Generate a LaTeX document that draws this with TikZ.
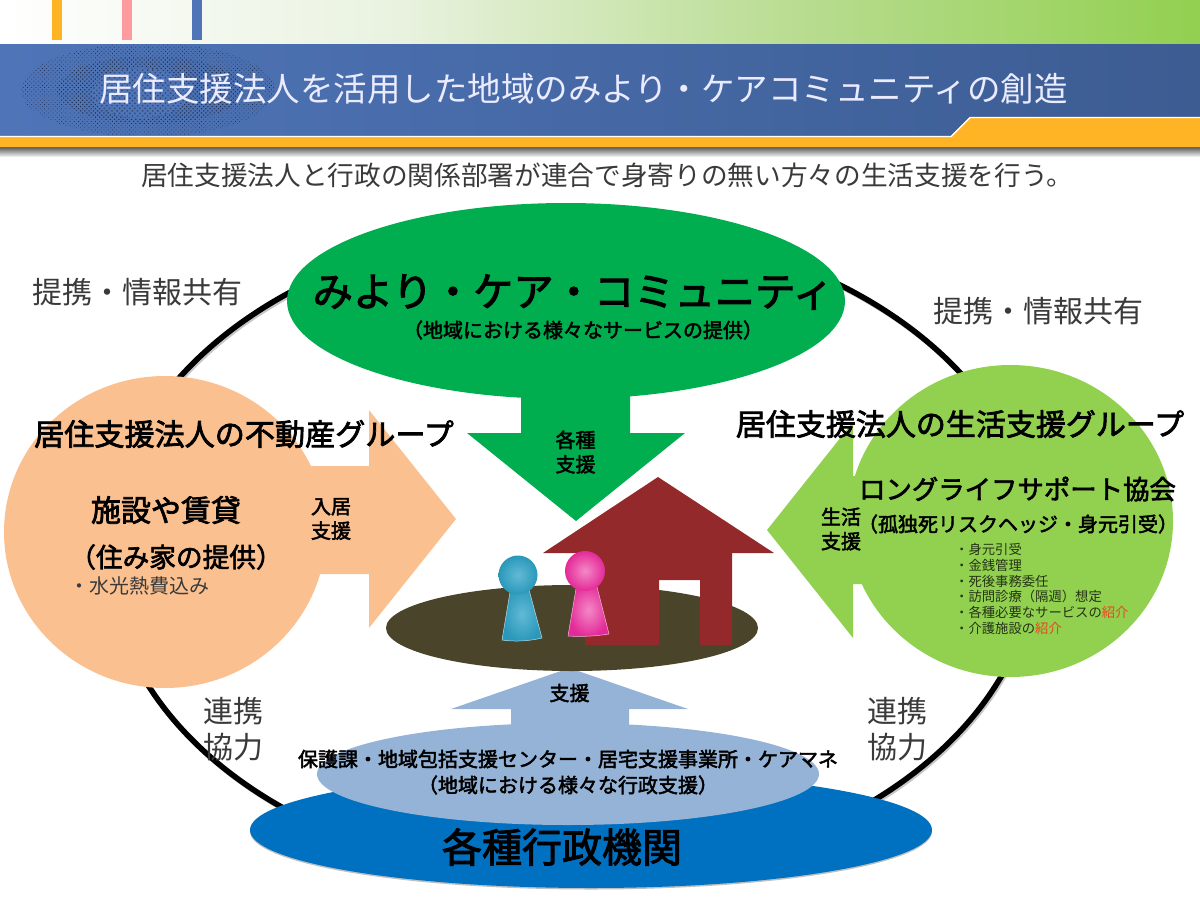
\documentclass[tikz,border=0pt]{standalone}
\usepackage{fontspec}
\setmainfont{Noto Sans CJK JP}
\newfontfamily\bfm[FakeBold=2.4]{Noto Sans CJK JP}
\usetikzlibrary{patterns.meta,shapes.geometric}
\definecolor{cgreen}{HTML}{00AE50}
\definecolor{clime}{HTML}{92D050}
\definecolor{cpeach}{HTML}{FAC090}
\definecolor{cblue}{HTML}{0070C0}
\definecolor{csky}{HTML}{95B3D7}
\definecolor{cearth}{HTML}{4A452A}
\definecolor{chouse}{HTML}{93292A}
\definecolor{corange}{HTML}{FFB426}
\definecolor{cpink}{HTML}{FF9A9E}
\definecolor{cbandl}{HTML}{4F75B8}
\definecolor{cbandr}{HTML}{3C5C92}
\definecolor{cdot}{HTML}{1E2D50}
\definecolor{ctxt}{HTML}{3A3A3A}
\definecolor{cred}{HTML}{E8471E}
\definecolor{ctopa}{HTML}{E9F2DF}
\definecolor{ctopb}{HTML}{B8DC90}
\definecolor{cpai}{HTML}{62BAD5}
\definecolor{cpao}{HTML}{2A98BA}
\definecolor{cpbi}{HTML}{F488C6}
\definecolor{cpbo}{HTML}{E32A98}
\pgfdeclarehorizontalshading{topbar}{100bp}{color(0bp)=(white);color(25bp)=(white);color(41.67bp)=(ctopa);color(58.33bp)=(ctopb);color(75bp)=(clime);color(100bp)=(clime)}
\newcommand{\fsset}[1]{\fontsize{#1}{\the\dimexpr#1pt*122/100\relax}\selectfont}
\tikzset{
  x=1pt,y=-1pt,
  txt/.style={inner sep=0pt,align=center,text=ctxt},
  fsz/.style={font=\fsset{#1}},
  bsz/.style={font=\bfm\fsset{#1},text=black},
  blob/.style={ellipse,inner sep=0pt,outer sep=0pt},
}
\begin{document}
\begin{tikzpicture}
\useasboundingbox (0,0) rectangle (1200,900);
% header
\shade[shading=topbar] (0,0) rectangle (1200,44);
\fill[corange] (52,0) rectangle (62,40);
\fill[cpink] (122,0) rectangle (132,40);
\fill[cbandl] (192,0) rectangle (202,40);
\shade[top color=black!65,bottom color=black!8] (0,147) rectangle (1200,156);
\shade[left color=cbandl,right color=cbandr] (0,44) rectangle (1200,136);
\fill[corange] (0,137) -- (951,137) -- (970,118) -- (1200,118) -- (1200,147) -- (0,147) -- cycle;
\draw[white,line width=1.4pt] (0,136.5) -- (951,136.5) -- (970,117.5) -- (1200,117.5);
\begin{scope}
\clip (0,44) rectangle (1200,135.5);
\path[pattern={Dots[distance=3pt,radius=.5pt,angle=45]},pattern color=cdot] (148,90) ellipse [x radius=127,y radius=47];
\path[pattern={Dots[distance=3pt,radius=.7pt,angle=45]},pattern color=cdot] (150,90) ellipse [x radius=93,y radius=34];
\fill[cbandl] (140,93) ellipse [x radius=48,y radius=25];
\path[pattern={Dots[distance=3.6pt,radius=1pt,angle=45]},pattern color=cbandr!80!black] (140,93) ellipse [x radius=48,y radius=25];
\end{scope}
\node[txt,fsz=33.5,text=white!92!blue] (title) at (583.5,89) {居住支援法人を活用した地域のみより・ケアコミュニティの創造};
\node[txt,fsz=26.67,anchor=west] (sub) at (141,175) {居住支援法人と行政の関係部署が連合で身寄りの無い方々の生活支援を行う。};
% ring
\draw[black!22,line width=5pt] (573.5,554) ellipse [x radius=464,y radius=327];
\node[draw=black,line width=5.6pt,blob,minimum width=928pt,minimum height=654pt] (ring) at (572,552) {};
% top
\node[blob,fill=cgreen,minimum width=558pt,minimum height=196pt] (top) at (566,301) {};
\fill[cgreen] (521,390) -- (630,390) -- (630,433) -- (685,433) -- (576,521) -- (467,433) -- (521,433) -- cycle;
% left
\node[blob,fill=cpeach,minimum width=322pt,minimum height=312pt] (left) at (165,532) {};
\fill[cpeach] (300,466) -- (369,466) -- (369,410) -- (456,519) -- (369,628) -- (369,574) -- (300,574) -- cycle;
% right
\node[blob,fill=clime,minimum width=325pt,minimum height=312pt] (right) at (1010.5,521) {};
\fill[clime] (880,476) -- (853,476) -- (853,422) -- (767,530) -- (853,638) -- (853,584) -- (880,584) -- cycle;
% bottom
\fill[black!25] (591,831.5) ellipse [x radius=341,y radius=58];
\node[blob,fill=cblue,minimum width=682pt,minimum height=116pt] (base) at (591,830) {};
\fill[csky] (511,740) -- (511,709) -- (451,709) -- (569.5,668) -- (688,709) -- (629,709) -- (629,740) -- cycle;
\node[blob,fill=csky,minimum width=502pt,minimum height=102pt] (admin) at (568,774) {};
% scene
\node[blob,fill=cearth,minimum width=372pt,minimum height=86pt] (earth) at (572,628) {};
\fill[chouse] (658,477) -- (774,553) -- (732,553) -- (732,645) -- (700,645) -- (700,580) -- (659,580) -- (659,645) -- (585,645) -- (585,553) -- (543,553) -- cycle;
% pawns
\shade[inner color=cpai,outer color=cpao,draw=white!65!cpao,line width=.5pt] (511,586) -- (502,640) .. controls (515,642) and (530,641) .. (542,638) -- (528,586) -- cycle;
\shade[inner color=cpai,outer color=cpao] (518,575) ellipse [x radius=19.5,y radius=19.5];
\shade[inner color=cpbi,outer color=cpbo,draw=white!65!cpbo,line width=.5pt] (577,583) -- (568,636) .. controls (582,637) and (597,636) .. (609,634) -- (596,583) -- cycle;
\shade[inner color=cpbi,outer color=cpbo] (585,571) ellipse [x radius=20,y radius=20];
% texts
\node[txt,fsz=30] (tl) at (137.5,292) {提携・情報共有};
\node[txt,fsz=30] (tr) at (1038.5,311) {提携・情報共有};
\node[txt,bsz=40.3] (mc) at (573,292) {みより・ケア・コミュニティ};
\node[txt,bsz=20] (mcs) at (583,330) {（地域における様々なサービスの提供）};
\node[txt,bsz=20] (kakushu) at (575.5,452) {各種\\支援};
\node[txt,bsz=30.1] (lg) at (244,434) {居住支援法人の不動産グループ};
\node[txt,bsz=30] (sh) at (166,510) {施設や賃貸};
\node[txt,bsz=26.67] (sm) at (176,557) {（住み家の提供）};
\node[txt,fsz=20,anchor=west] (wl) at (69,586) {・水光熱費込み};
\node[txt,bsz=20] (ny) at (331,519) {入居\\支援};
\node[txt,bsz=30] (rg) at (960,424) {居住支援法人の生活支援グループ};
\node[txt,bsz=26.4] (ll) at (1017.5,489) {ロングライフサポート協会};
\node[txt,bsz=20] (kd) at (1018,524) {（孤独死リスクヘッジ・身元引受）};
\node[txt,bsz=20] (sk) at (841,529) {生活\\支援};
\node[txt,anchor=north west,align=left,text=black!75!clime,font=\fontsize{13.33}{15.8}\selectfont] (lst) at (955,543) {%
・身元引受\\
・金銭管理\\
・死後事務委任\\
・訪問診療（隔週）想定\\
・各種必要なサービスの\textcolor{cred}{紹介}\\
・介護施設の\textcolor{cred}{紹介}};
\node[txt,bsz=20] (sien) at (569.5,693) {支援};
\node[txt,fsz=30] (rl) at (233,729) {連携\\協力};
\node[txt,fsz=30] (rr) at (897,729) {連携\\協力};
\node[txt,bsz=20] (ho) at (568,759) {保護課・地域包括支援センター・居宅支援事業所・ケアマネ};
\node[txt,bsz=20] (ch) at (568,785) {（地域における様々な行政支援）};
\node[txt,bsz=40] (gy) at (562,847) {各種行政機関};
\end{tikzpicture}
\end{document}
